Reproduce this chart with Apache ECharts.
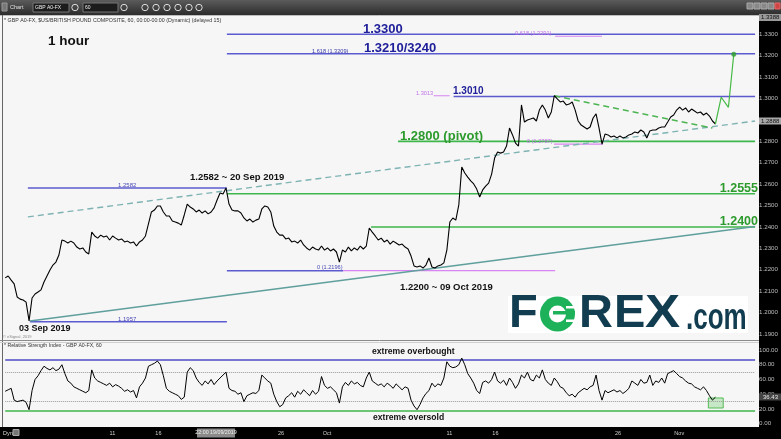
<!DOCTYPE html>
<html><head><meta charset="utf-8">
<script src="https://cdn.jsdelivr.net/npm/echarts@6/dist/echarts.min.js"></script>
<style>html,body{margin:0;padding:0;background:#f6f6f6;overflow:hidden}#c{width:781px;height:439px}</style>
</head><body><div id="c"></div>
<script>
// ---- time: trading-day index (0 = Mon 02 Sep 2019), one sample every STEP days
const STEP = 0.1948;
// ---- GBP/USD hourly close (sampled)
const priceClose = [
1.2162,1.2171,1.2152,1.2134,1.2073,1.2063,1.2059,1.2049,1.1961,1.2068,
1.2087,1.2096,1.2106,1.2143,1.2171,1.2199,1.2222,1.2236,1.2269,1.2339,
1.2334,1.2325,1.2334,1.2325,1.2306,1.2297,1.2302,1.2283,1.2274,1.2376,
1.2358,1.2348,1.2362,1.2353,1.2358,1.2339,1.2358,1.2348,1.2339,1.2344,
1.2330,1.2334,1.2325,1.2330,1.2311,1.2330,1.2339,1.2358,1.2414,1.2470,
1.2479,1.2498,1.2498,1.2470,1.2451,1.2451,1.2428,1.2423,1.2418,1.2409,
1.2456,1.2507,1.2493,1.2484,1.2470,1.2479,1.2465,1.2475,1.2461,1.2470,
1.2489,1.2526,1.2559,1.2554,1.2582,1.2507,1.2479,1.2475,1.2475,1.2465,
1.2442,1.2428,1.2437,1.2423,1.2432,1.2437,1.2484,1.2498,1.2493,1.2470,
1.2404,1.2376,1.2362,1.2362,1.2344,1.2348,1.2330,1.2334,1.2325,1.2339,
1.2316,1.2302,1.2292,1.2306,1.2297,1.2292,1.2311,1.2292,1.2302,1.2288,
1.2297,1.2283,1.2236,1.2292,1.2283,1.2306,1.2288,1.2302,1.2292,1.2311,
1.2297,1.2311,1.2395,1.2376,1.2358,1.2339,1.2348,1.2330,1.2339,1.2320,
1.2334,1.2325,1.2316,1.2320,1.2306,1.2297,1.2264,1.2218,1.2213,1.2218,
1.2208,1.2222,1.2255,1.2213,1.2208,1.2218,1.2222,1.2232,1.2292,1.2423,
1.2442,1.2432,1.2503,1.2680,1.2652,1.2633,1.2615,1.2601,1.2577,1.2540,
1.2573,1.2591,1.2605,1.2647,1.2722,1.2750,1.2745,1.2750,1.2778,1.2862,
1.2830,1.2792,1.2778,1.2970,1.2890,1.2900,1.2904,1.2909,1.2895,1.2946,
1.2970,1.2946,1.2909,1.2937,1.3013,1.2998,1.2984,1.2988,1.2970,1.2974,
1.2984,1.2946,1.2895,1.2876,1.2867,1.2858,1.2867,1.2909,1.2928,1.2862,
1.2787,1.2834,1.2830,1.2820,1.2825,1.2816,1.2825,1.2816,1.2820,1.2830,
1.2834,1.2844,1.2839,1.2853,1.2844,1.2816,1.2848,1.2853,1.2853,1.2862,
1.2867,1.2867,1.2890,1.2914,1.2923,1.2946,1.2960,1.2946,1.2956,1.2937,
1.2951,1.2942,1.2932,1.2937,1.2923,1.2932,1.2918,1.2895,1.2881];
// ---- RSI(14), same sampling
const rsiValues = [
44,46,48,32,30,31,32,29,19,45,
60,65,72,78,75,73,76,72,74,80,
68,58,55,50,48,46,44,42,45,73,
62,58,56,54,52,55,50,53,51,48,
44,46,43,45,35,50,55,62,78,80,
82,85,80,65,48,44,42,40,38,33,
36,70,76,72,62,56,52,58,54,60,
53,58,62,66,70,48,45,44,40,42,
30,38,40,42,41,45,66,62,58,55,
40,30,23,26,35,38,42,36,44,40,
46,42,38,45,40,44,64,52,48,50,
46,42,28,50,56,52,58,54,56,52,
50,62,70,58,55,52,54,50,55,52,
48,54,50,46,50,48,32,24,19,26,
35,41,45,55,50,54,52,62,84,78,
76,77,80,89,80,68,62,55,45,41,
56,58,55,60,70,58,55,59,52,62,
56,48,54,66,62,70,60,58,66,62,
73,60,55,52,62,57,50,48,42,38,
40,36,42,45,48,46,50,52,66,45,
32,45,42,44,46,43,45,41,44,48,
58,55,52,60,55,56,66,52,58,56,
62,55,68,70,72,68,64,62,58,55,
54,50,48,46,50,45,38,32,36];
// ---- x tick labels (trading-day index)
const xTickPos = [7, 10, 18, 21, 29, 32, 40, 44];
const xTickLabels = ['11', '16', '26', 'Oct', '11', '16', '26', 'Nov'];
const xMax = 48.95;
// ---- horizontal levels [price, fromDay, toDay]
const blueLevels = [[1.3300,14.47,xMax],[1.3209,14.47,xMax],[1.3010,29.27,xMax],[1.2582,1.48,14.47],[1.2196,14.47,22.06],[1.1957,1.61,14.47]];
const greenLevels = [[1.2800,25.64,xMax],[1.2555,14.47,xMax],[1.2400,23.88,xMax]];
const fibLevels = [[1.3291,35.9,38.95],[1.3013,27.97,29.01],[1.2787,35.83,39.01],[1.2196,22.06,35.9]];
// ---- trend lines [day, price]
const upperChannel = [[1.48,1.2447],[xMax,1.2895]];
const lowerChannel = [[1.61,1.1961],[xMax,1.2402]];
const fallingLine = [[35.84,1.3013],[46.16,1.2862]];
const projDays = [46.36,46.74,47.21,47.56];
const projPrice = [1.2881,1.3006,1.2959,1.3207];
// ---- RSI levels
const rsiOverbought = 86.5, rsiOversold = 17.3, rsiUpper = 70, rsiLower = 30;
const rsiLast = '36.43';

const FF = '"Liberation Sans", Arial, sans-serif';
const chart = echarts.init(document.getElementById('c'));
const series = [];
function seg(pts, color, width, type, z) {
  series.push({type:'line', xAxisIndex:0, yAxisIndex:0, data:pts, symbol:'none', silent:true, z:z||3,
    lineStyle:{color:color, width:width, type:type||'solid'}, animation:false});
}
blueLevels.forEach(l => seg([[l[1],l[0]],[l[2],l[0]]], '#5b5bcf', 1.5));
greenLevels.forEach(l => seg([[l[1],l[0]],[l[2],l[0]]], '#3fb64b', 1.6));
fibLevels.forEach(l => seg([[l[1],l[0]],[l[2],l[0]]], '#d884f2', 1.2));
seg(upperChannel, '#7fb3b3', 1.4, [6,4]);
seg(lowerChannel, '#5f9f9c', 1.4);
seg(fallingLine, '#4cb552', 1.4, [6,4]);
series.push({type:'line', xAxisIndex:0, yAxisIndex:0, data: priceClose.map((v,i)=>[i*STEP, v]),
  symbol:'none', lineStyle:{color:'#000', width:1.1}, z:6, animation:false});
series.push({type:'line', xAxisIndex:0, yAxisIndex:0, data: projDays.map((d,i)=>[d, projPrice[i]]),
  symbol:'none', lineStyle:{color:'#46b946', width:1.2}, z:7, animation:false});
series.push({type:'scatter', xAxisIndex:0, yAxisIndex:0, data:[[projDays[3], projPrice[3]]],
  symbolSize:5, itemStyle:{color:'#2e9e2e'}, z:8, animation:false});
series.push({type:'line', xAxisIndex:1, yAxisIndex:1, data: rsiValues.map((v,i)=>[i*STEP, v]),
  symbol:'none', lineStyle:{color:'#000', width:1}, z:6, animation:false,
  markLine:{silent:true, symbol:'none', label:{show:false}, animation:false, data:[
    {yAxis:rsiOverbought, lineStyle:{color:'#4d4dc4', width:1.6, type:'solid'}},
    {yAxis:rsiOversold, lineStyle:{color:'#3fb64b', width:1.6, type:'solid'}},
    {yAxis:rsiUpper, lineStyle:{color:'#9a9a9a', width:1, type:'dotted'}},
    {yAxis:rsiLower, lineStyle:{color:'#9a9a9a', width:1, type:'dotted'}}]},
  markArea:{silent:true, itemStyle:{color:'rgba(110,205,110,0.35)', borderColor:'#55bb55', borderWidth:1},
    data:[[{xAxis:45.9, yAxis:21.3},{xAxis:46.87, yAxis:34.9}]]}
});

const axisLab = {fontSize:6.2, color:'#bdbdbd', fontFamily:FF, margin:4};
chart.setOption({
  backgroundColor:'#f6f6f6', animation:false,
  grid:[{left:5.2, right:22, top:12.9, bottom:83.6}, {left:5.2, right:22, top:350, bottom:15.3}],
  xAxis:[{gridIndex:0, type:'value', min:0, max:xMax, show:false},
         {gridIndex:1, type:'value', min:0, max:xMax, show:false}],
  yAxis:[{gridIndex:0, type:'value', position:'right', min:1.18, max:1.34, interval:0.01, z:20,
          axisLine:{show:false}, axisTick:{show:false}, splitLine:{show:false},
          axisLabel:Object.assign({}, axisLab, {formatter:v => (v<1.185||v>1.335) ? '' : v.toFixed(4)})},
         {gridIndex:1, type:'value', position:'right', min:0, max:100, interval:20, z:20,
          axisLine:{show:false}, axisTick:{show:false}, splitLine:{show:false},
          axisLabel:Object.assign({}, axisLab, {formatter:v => v.toFixed(2)})}],
  series: series
});

function T(text, x, y, size, color, bold, align, extra) {
  return Object.assign({type:'text', x:x, y:y, z:50, silent:true, style:{text:text, fill:color,
    font:(bold?'bold ':'')+size+'px '+FF, align:align||'left', verticalAlign:'middle'}}, extra||{});
}
function R(x,y,w,h,fill,stroke,z){return {type:'rect', z:z||1, silent:true, shape:{x:x,y:y,width:w,height:h}, style:{fill:fill, stroke:stroke||null, lineWidth:1}};}
function L(x1,y1,x2,y2,stroke,w,z){return {type:'line', z:z||2, silent:true, shape:{x1:x1,y1:y1,x2:x2,y2:y2}, style:{stroke:stroke, lineWidth:w||1}};}

const G = [];
// toolbar
G.push(Object.assign(R(0,0,781,15,new echarts.graphic.LinearGradient(0,0,0,1,[{offset:0,color:'#5b5b5b'},{offset:1,color:'#2c2c2c'}])),{z:10}));
G.push(Object.assign(R(2,3,5,8,'#777','#999'),{z:11}));
G.push(T('Chart',10,7.5,5.5,'#e0e0e0',false));
G.push(Object.assign(R(33,3,36,9,'#1c1c1c','#777'),{z:11}));
G.push(T('GBP A0-FX',35,7.5,5,'#f0f0f0',false));
G.push(Object.assign(R(83,3,35,9,'#1c1c1c','#777'),{z:11}));
G.push(T('60',85,7.5,5,'#f0f0f0',false));
[75,124,145,156,167,178,189,199].forEach(cx=>G.push({type:'circle',z:11,silent:true,shape:{cx:cx,cy:7.5,r:3.2},style:{fill:'none',stroke:'#ddd',lineWidth:1}}));
[747,754,761,768].forEach(cx=>G.push(Object.assign(R(cx,3,6,6,'#888','#aaa'),{z:11})));
G.push(Object.assign(R(775,3,5,6,'#c44','#e66'),{z:11}));
// right axis band and bottom band
G.push(R(759,15,22,424,'#000',null,1));
G.push(R(0,427,781,12,'#000',null,1));
// borders
G.push(L(0,15.5,759,15.5,'#bdbdbd',1));
G.push(L(2.5,15,2.5,427,'#666',1));
G.push(L(0,340.5,759,340.5,'#8a8a8a',1));
G.push(L(0,342.5,759,342.5,'#cfcfcf',1));
// header texts
G.push(T('* GBP A0-FX, $US/BRITISH POUND COMPOSITE, 60, 00:00-00:00 (Dynamic) (delayed 15)',4,21,5.3,'#333',false));
G.push(T('1 hour',48,41,13.5,'#111',true));
// level annotations
G.push(T('1.3300',363,29,13,'#20209a',true));
G.push(T('1.3210/3240',364,48.5,13,'#20209a',true));
G.push(T('1.618 (1.3209)',312,51,5.6,'#3a3aa8',false));
G.push(T('0.618 (1.3291)',515,33.5,5.6,'#c070e8',false));
G.push(T('1.3013',416,93.5,5.6,'#c070e8',false));
G.push(T('1.3010',453,91.5,10,'#20209a',true));
G.push(T('1.2800 (pivot)',400,136,13,'#2c9a2c',true));
G.push(T('0 (1.2787)',527,141,5.6,'#c070e8',false));
G.push(T('1.2555',758,188.5,12.5,'#2c9a2c',true,'right'));
G.push(T('1.2400',758,221.5,12.5,'#2c9a2c',true,'right'));
G.push(T('1.2582',118,185,6,'#4a4ab8',false));
G.push(T('1.2582 ~ 20 Sep 2019',190,177,9.5,'#111',true));
G.push(T('0 (1.2196)',317,267,5.6,'#4a4ab8',false));
G.push(T('1.2200 ~ 09 Oct 2019',400,287.5,9.5,'#111',true));
G.push(T('1.1957',118,319,6,'#4a4ab8',false));
G.push(T('03 Sep 2019',19,328.5,9,'#111',true));
G.push(T('\u00a9 eSignal, 2019',3,336.5,4,'#888',false));
G.push(T('* Relative Strength Index - GBP A0-FX, 60',4,345.5,5.2,'#333',false));
G.push(T('extreme overbought',372,351.5,8.6,'#111',true));
G.push(T('extreme oversold',373,418,8.6,'#111',true));
// logo
G.push(R(508,296,240,37,'#ffffff',null,40));
const LOGO='#123c4f';
G.push(Object.assign(T('F',509,314,47,LOGO,true),{z:45}));
G.push({type:'circle',z:45,silent:true,shape:{cx:557.5,cy:314,r:17.5},style:{fill:'#1db25a'}});
G.push({type:'circle',z:46,silent:true,shape:{cx:557.5,cy:314,r:8.5},style:{fill:'#ffffff'}});
G.push(R(553,311,22,3.5,'#1db25a',null,47));
G.push(R(566,306,10,2.5,'#ffffff',null,47));
G.push(R(566,319.5,10,2.5,'#ffffff',null,47));
G.push(Object.assign(T('R',579,314,47,LOGO,true),{z:45}));
G.push(Object.assign(T('E',614,314,47,LOGO,true),{z:45}));
G.push(Object.assign(T('X',645,314,47,LOGO,true,'left',{scaleX:1.12}),{z:45}));
G.push(Object.assign(T('.com',686,319,26,LOGO,true),{z:45, scaleY:1.4, originX:0, originY:0}));
// axis value boxes
G.push(R(759,14,22,7,'#9a9a9a',null,30));
G.push(Object.assign(T('1.3388',761,17.5,6,'#111',false),{z:51}));
G.push(R(759,117.5,22,7,'#a8a8a8',null,30));
G.push(Object.assign(T('1.2888',761,121,6,'#111',false),{z:51}));
G.push(R(759,393.5,22,7,'#444',null,30));
G.push(Object.assign(T(rsiLast,763,397,6,'#e8e8e8',false),{z:51}));
// bottom date axis
G.push(T('Dyn',3,433,5.5,'#ddd',false));
G.push(R(13,429.5,6,6,'#777','#aaa',30));
xTickPos.forEach((p,i)=>{
  const px = chart.convertToPixel({xAxisIndex:1}, p);
  G.push(T(xTickLabels[i], px, 433, 5.5, '#d0d0d0', false, 'center'));
});
const hx = chart.convertToPixel({xAxisIndex:1}, 13.76);
G.push(R(hx-19,428.5,38,9,'#8a8a8a',null,30));
G.push(T('22:00 19/09/2019', hx, 433, 5.3, '#f0f0f0', false, 'center'));

chart.setOption({graphic:{elements:G}});
</script></body></html>
